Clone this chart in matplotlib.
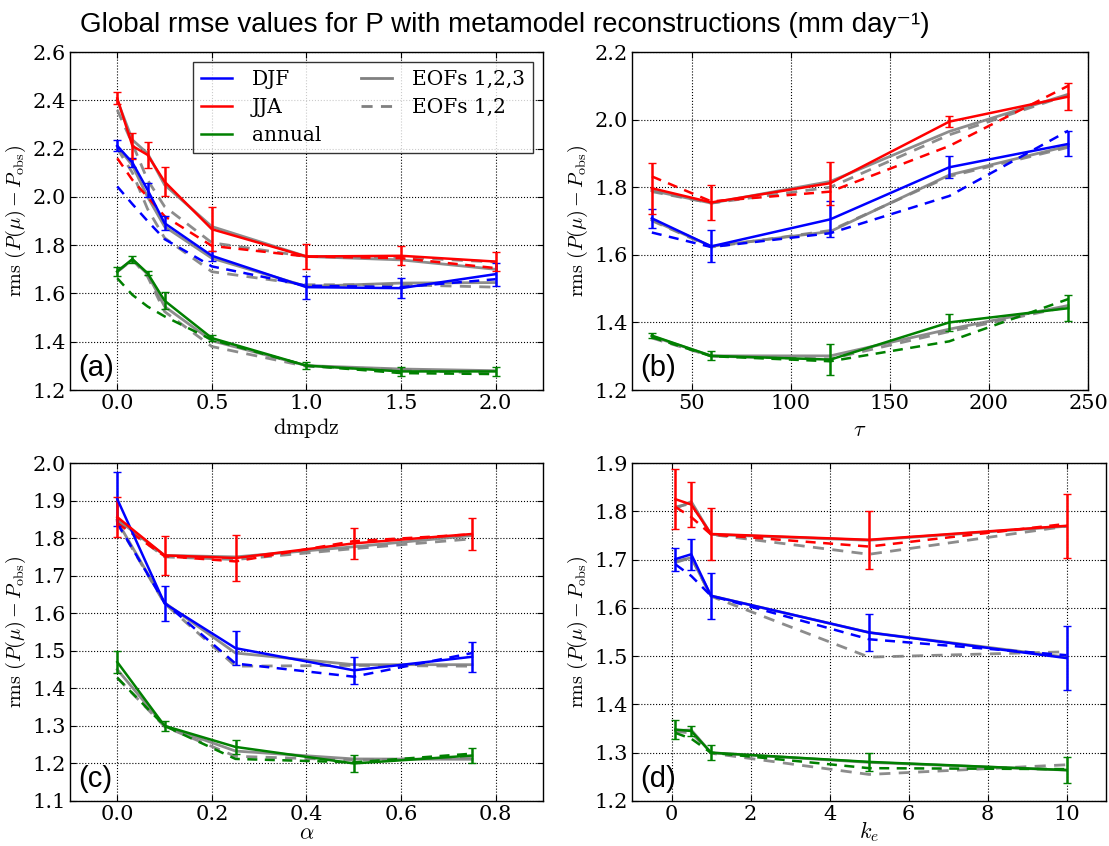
import matplotlib
matplotlib.use("Agg")
import matplotlib.pyplot as plt

# ---------------- data ----------------
# panel (a): dmpdz
a_x = [0.0, 0.08, 0.16, 0.25, 0.5, 1.0, 1.5, 2.0]
a_djf = [2.211, 2.142, 2.029, 1.891, 1.756, 1.626, 1.622, 1.680]
a_djf_err = [0.023, 0.017, 0.030, 0.030, 0.020, 0.048, 0.041, 0.048]
a_djf_d = [2.043, 1.97, 1.90, 1.825, 1.712, 1.632, 1.626, 1.659]
a_djf_g3 = [2.21, 2.13, 2.00, 1.877, 1.746, 1.629, 1.643, 1.645]
a_djf_g2 = [2.20, 2.10, 1.95, 1.830, 1.690, 1.636, 1.636, 1.626]
a_jja = [2.408, 2.211, 2.174, 2.063, 1.866, 1.753, 1.756, 1.732]
a_jja_err = [0.025, 0.055, 0.053, 0.060, 0.090, 0.052, 0.040, 0.040]
a_jja_d = [2.160, 2.07, 2.00, 1.920, 1.797, 1.753, 1.746, 1.705]
a_jja_g3 = [2.40, 2.236, 2.18, 2.050, 1.877, 1.753, 1.739, 1.700]
a_jja_g2 = [2.36, 2.22, 2.07, 1.960, 1.810, 1.753, 1.750, 1.730]
a_ann = [1.691, 1.742, 1.684, 1.570, 1.415, 1.301, 1.277, 1.277]
a_ann_err = [0.020, 0.015, 0.008, 0.035, 0.014, 0.014, 0.019, 0.019]
a_ann_d = [1.663, 1.594, 1.546, 1.505, 1.408, 1.301, 1.270, 1.266]
a_ann_g3 = [1.69, 1.74, 1.68, 1.546, 1.404, 1.301, 1.287, 1.280]
a_ann_g2 = [1.69, 1.74, 1.67, 1.525, 1.380, 1.298, 1.284, 1.268]

# panel (b): tau
b_x = [30, 60, 120, 180, 240]
b_djf = [1.708, 1.625, 1.705, 1.859, 1.928]
b_djf_err = [0.028, 0.047, 0.053, 0.032, 0.037]
b_djf_d = [1.666, 1.623, 1.664, 1.774, 1.967]
b_djf_g3 = [1.703, 1.625, 1.669, 1.836, 1.922]
b_djf_g2 = [1.701, 1.623, 1.672, 1.832, 1.918]
b_jja = [1.797, 1.755, 1.812, 1.994, 2.068]
b_jja_err = [0.075, 0.052, 0.064, 0.016, 0.041]
b_jja_d = [1.832, 1.758, 1.787, 1.922, 2.100]
b_jja_g3 = [1.790, 1.753, 1.817, 1.965, 2.075]
b_jja_g2 = [1.787, 1.753, 1.800, 1.955, 2.073]
b_ann = [1.361, 1.301, 1.290, 1.400, 1.442]
b_ann_err = [0.008, 0.013, 0.046, 0.024, 0.038]
b_ann_d = [1.356, 1.300, 1.285, 1.344, 1.469]
b_ann_g3 = [1.359, 1.301, 1.301, 1.380, 1.450]
b_ann_g2 = [1.354, 1.300, 1.292, 1.373, 1.447]

# panel (c): alpha
c_x = [0.0, 0.1, 0.25, 0.5, 0.75]
c_djf = [1.904, 1.626, 1.507, 1.448, 1.484]
c_djf_err = [0.072, 0.047, 0.046, 0.036, 0.040]
c_djf_d = [1.840, 1.628, 1.466, 1.431, 1.494]
c_djf_g3 = [1.845, 1.628, 1.494, 1.463, 1.463]
c_djf_g2 = [1.840, 1.626, 1.459, 1.461, 1.459]
c_jja = [1.856, 1.754, 1.747, 1.786, 1.811]
c_jja_err = [0.053, 0.052, 0.062, 0.041, 0.042]
c_jja_d = [1.840, 1.752, 1.738, 1.792, 1.810]
c_jja_g3 = [1.850, 1.754, 1.750, 1.777, 1.807]
c_jja_g2 = [1.845, 1.750, 1.743, 1.772, 1.798]
c_ann = [1.470, 1.300, 1.244, 1.200, 1.221]
c_ann_err = [0.029, 0.014, 0.018, 0.022, 0.020]
c_ann_d = [1.428, 1.300, 1.212, 1.203, 1.226]
c_ann_g3 = [1.450, 1.300, 1.233, 1.212, 1.211]
c_ann_g2 = [1.428, 1.298, 1.219, 1.209, 1.215]

# panel (d): k_e
d_x = [0.1, 0.5, 1.0, 5.0, 10.0]
d_djf = [1.701, 1.711, 1.625, 1.549, 1.496]
d_djf_err = [0.024, 0.032, 0.048, 0.038, 0.067]
d_djf_d = [1.690, 1.666, 1.625, 1.535, 1.502]
d_djf_g3 = [1.696, 1.704, 1.625, 1.549, 1.498]
d_djf_g2 = [1.694, 1.704, 1.624, 1.498, 1.509]
d_jja = [1.825, 1.814, 1.753, 1.741, 1.770]
d_jja_err = [0.0625, 0.047, 0.053, 0.060, 0.066]
d_jja_d = [1.809, 1.788, 1.752, 1.727, 1.774]
d_jja_g3 = [1.806, 1.820, 1.752, 1.740, 1.769]
d_jja_g2 = [1.809, 1.816, 1.752, 1.711, 1.769]
d_ann = [1.348, 1.345, 1.300, 1.281, 1.264]
d_ann_err = [0.019, 0.011, 0.015, 0.018, 0.027]
d_ann_d = [1.341, 1.329, 1.300, 1.268, 1.266]
d_ann_g3 = [1.346, 1.347, 1.300, 1.280, 1.264]
d_ann_g2 = [1.344, 1.341, 1.299, 1.255, 1.275]

season_names = ["DJF", "JJA", "annual"]
season_colors = ["b", "r", "g"]
eof_names = ["EOFs 1,2,3", "EOFs 1,2"]

title = "Global rmse values for P with metamodel reconstructions (mm day\u207b\u00b9)"
ylabel = r"$\mathrm{rms}\ (P(\mu) - P_{\mathrm{obs}})$"

# ---------------- style ----------------
plt.rcParams["font.family"] = ["DejaVu Serif"]
plt.rcParams["mathtext.fontset"] = "cm"

fig = plt.figure(figsize=(11.09, 8.46), dpi=100)

panels = [
    dict(x=a_x, series=[(a_djf, a_djf_err, a_djf_d, a_djf_g3, a_djf_g2),
                        (a_jja, a_jja_err, a_jja_d, a_jja_g3, a_jja_g2),
                        (a_ann, a_ann_err, a_ann_d, a_ann_g3, a_ann_g2)],
         rect=[0.0631, 0.539, 0.4265, 0.3995], xlim=(-0.25, 2.25), ylim=(1.2, 2.6),
         xticks=[0.0, 0.5, 1.0, 1.5, 2.0], xfmt="{:.1f}", yticks=[1.2, 1.4, 1.6, 1.8, 2.0, 2.2, 2.4, 2.6],
         xlabel=r"$\mathrm{dmpdz}$", label="(a)", legend=True, ly=-0.112),
    dict(x=b_x, series=[(b_djf, b_djf_err, b_djf_d, b_djf_g3, b_djf_g2),
                        (b_jja, b_jja_err, b_jja_d, b_jja_g3, b_jja_g2),
                        (b_ann, b_ann_err, b_ann_d, b_ann_g3, b_ann_g2)],
         rect=[0.5699, 0.539, 0.4112, 0.3995], xlim=(20, 250), ylim=(1.2, 2.2),
         xticks=[50, 100, 150, 200, 250], xfmt="{:d}", yticks=[1.2, 1.4, 1.6, 1.8, 2.0, 2.2],
         xlabel=r"$\tau$", label="(b)", legend=False, ly=-0.118),
    dict(x=c_x, series=[(c_djf, c_djf_err, c_djf_d, c_djf_g3, c_djf_g2),
                        (c_jja, c_jja_err, c_jja_d, c_jja_g3, c_jja_g2),
                        (c_ann, c_ann_err, c_ann_d, c_ann_g3, c_ann_g2)],
         rect=[0.0631, 0.0532, 0.4265, 0.3995], xlim=(-0.1, 0.9), ylim=(1.1, 2.0),
         xticks=[0.0, 0.2, 0.4, 0.6, 0.8], xfmt="{:.1f}",
         yticks=[1.1, 1.2, 1.3, 1.4, 1.5, 1.6, 1.7, 1.8, 1.9, 2.0],
         xlabel=r"$\alpha$", label="(c)", legend=False, ly=-0.095),
    dict(x=d_x, series=[(d_djf, d_djf_err, d_djf_d, d_djf_g3, d_djf_g2),
                        (d_jja, d_jja_err, d_jja_d, d_jja_g3, d_jja_g2),
                        (d_ann, d_ann_err, d_ann_d, d_ann_g3, d_ann_g2)],
         rect=[0.5699, 0.0532, 0.4274, 0.3995], xlim=(-1, 11), ylim=(1.2, 1.9),
         xticks=[0, 2, 4, 6, 8, 10], xfmt="{:d}",
         yticks=[1.2, 1.3, 1.4, 1.5, 1.6, 1.7, 1.8, 1.9],
         xlabel=r"$k_e$", label="(d)", legend=False, ly=-0.092),
]

for p in panels:
    ax = fig.add_axes(p["rect"])
    x = p["x"]
    for (name, col), (val, err, dsh, g3, g2) in zip(zip(season_names, season_colors), p["series"]):
        ax.plot(x, g3, color="0.5", lw=2.0, alpha=0.9, zorder=2)
        ax.plot(x, g2, color="0.5", lw=2.0, ls="--", dashes=(4, 3), alpha=0.9, zorder=2)
        ax.plot(x, dsh, color=col, lw=1.8, ls="--", dashes=(4, 3), zorder=3)
        ax.errorbar(x, val, yerr=err, color=col, lw=1.8, elinewidth=1.8,
                    capsize=3, capthick=1.0, zorder=4)
    ax.set_xlim(*p["xlim"])
    ax.set_ylim(*p["ylim"])
    ax.set_xticks(p["xticks"])
    ax.set_xticklabels([p["xfmt"].format(t) for t in p["xticks"]])
    ax.set_yticks(p["yticks"])
    ax.set_yticklabels(["{:.1f}".format(t) for t in p["yticks"]])
    ax.tick_params(labelsize=15, direction="in", top=True, right=True, length=4, pad=3)
    ax.grid(True, color="black", ls=":", lw=0.8)
    for s in ax.spines.values():
        s.set_linewidth(1.0)
    ax.set_xlabel(p["xlabel"], fontsize=16)
    ax.xaxis.set_label_coords(0.5, p["ly"])
    ax.xaxis.label.set_va("center")
    ax.set_ylabel(ylabel, fontsize=14.5, labelpad=3)
    ax.text(0.017, 0.04, p["label"], transform=ax.transAxes, fontsize=21,
            family=["Liberation Sans", "DejaVu Sans"], ha="left", va="baseline", zorder=6)
    if p["legend"]:
        handles = []
        for name, col in zip(season_names, season_colors):
            h, = ax.plot([], [], color=col, lw=1.8, label=name)
            handles.append(h)
        h3, = ax.plot([], [], color="0.5", lw=2.0, label=eof_names[0])
        h2, = ax.plot([], [], color="0.5", lw=2.0, ls="--", dashes=(4, 3), label=eof_names[1])
        blank, = ax.plot([], [], color="none", label=" ")
        leg = ax.legend(handles + [h3, h2, blank], season_names + eof_names + [""],
                        ncol=2, loc="upper right", fontsize=14.5, frameon=True,
                        fancybox=False, edgecolor="black", borderaxespad=0.5,
                        handlelength=1.5, columnspacing=2.0, handletextpad=1.0,
                        labelspacing=0.45, borderpad=0.4)
        leg.get_frame().set_linewidth(1.0)
        leg.set_zorder(10)

fig.text(0.455, 0.962, title, fontsize=20, ha="center", va="baseline",
         family=["Liberation Sans", "DejaVu Sans"])

fig.savefig("out.png", dpi=100)
